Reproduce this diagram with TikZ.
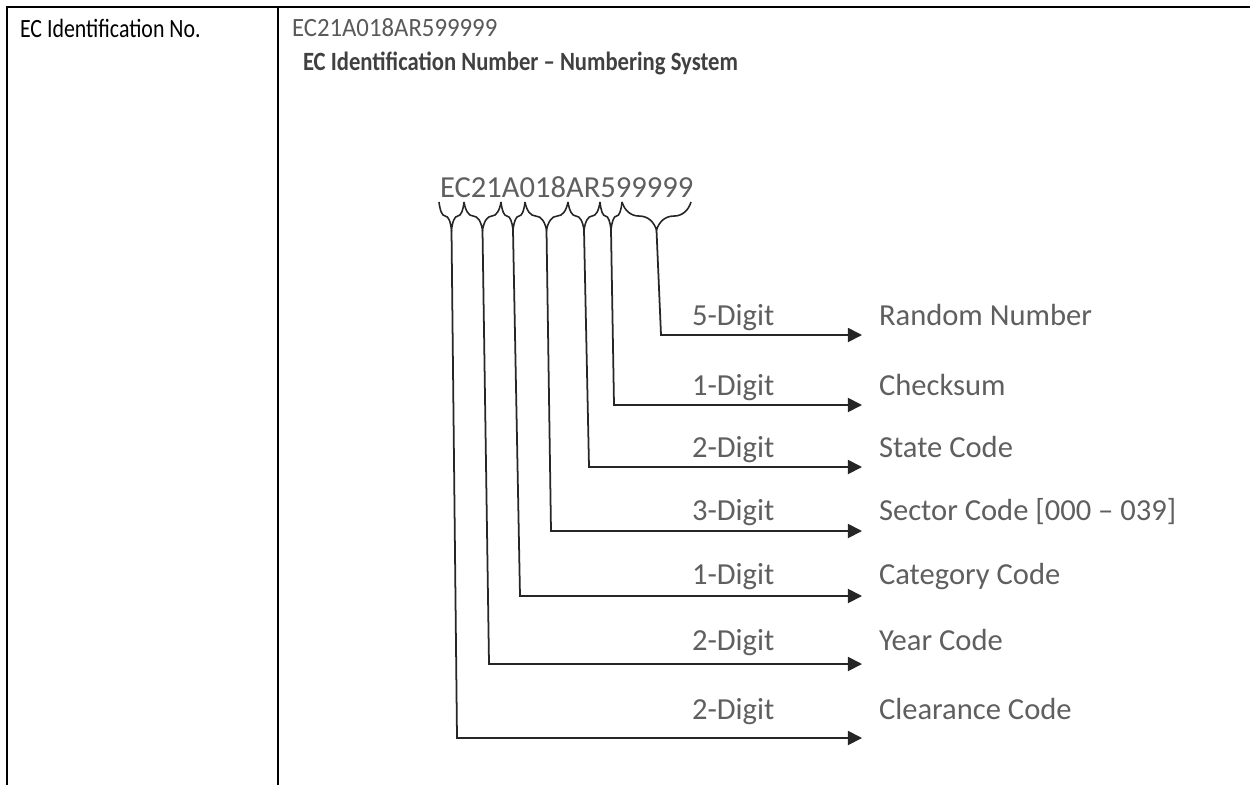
\documentclass[tikz,border=0pt]{standalone}
\usepackage{fontspec}
\setmainfont{Carlito}
\usepackage{xcolor}
\usepackage{graphicx}
\usetikzlibrary{arrows.meta,positioning,decorations.pathreplacing}
\definecolor{valuegray}{HTML}{595959}
\definecolor{headgray}{HTML}{404040}
\definecolor{diagray}{HTML}{5F5F5F}

\begin{document}
\begin{tikzpicture}[x=0.02cm, y=-0.02cm, every node/.style={inner sep=0pt, outer sep=0pt}]
\tikzset{
  rule/.style={draw=black, line width=1.3pt},
  cell/.style={font=\fontsize{15}{18}\selectfont, anchor=west},
  heading/.style={font=\fontsize{15}{18}\selectfont\bfseries, text=headgray, anchor=west},
  code/.style={font=\fontsize{17.4}{20}\selectfont, text=diagray, anchor=base west},
  digits/.style={font=\fontsize{17.4}{20}\selectfont, text=diagray, anchor=base west},
  desc/.style={font=\fontsize{17.4}{20}\selectfont, text=diagray, anchor=base west},
  grp/.style={decorate, decoration={brace, mirror, amplitude=16pt}, draw=black!85, line width=0.9pt},
  lead/.style={-{Triangle[length=8pt, width=8pt]}, draw=black!85, line width=1pt}
}
\useasboundingbox (0,0) rectangle (1250,785);
% table frame
\draw[rule] (6,7) -- (1250,7);
\draw[rule] (7,6) -- (7,785);
\draw[rule] (278,6) -- (278,785);
\node[cell] (field) at (20,28) {\scalebox{0.83}[1]{EC Identification No.}};
\node[cell, text=valuegray] (value) at (292,28) {\scalebox{0.94}[1]{EC21A018AR599999}};
\node[heading] (heading) at (303,63) {\scalebox{0.86}[1]{EC Identification Number – Numbering System}};
% numbering scheme
\node[code] (ecno) at (440,197) {EC21A018AR599999};
\draw[grp] (622,202) -- (691,202);
\draw[grp] (600,202) -- (622,202);
\draw[grp] (568,202) -- (600,202);
\draw[grp] (525,202) -- (568,202);
\draw[grp] (501,202) -- (525,202);
\draw[grp] (464,202) -- (501,202);
\draw[grp] (439,202) -- (464,202);
\coordinate (g1) at (656.5,230);
\coordinate (g2) at (611,230);
\coordinate (g3) at (584,230);
\coordinate (g4) at (546.5,230);
\coordinate (g5) at (513,230);
\coordinate (g6) at (482.5,230);
\coordinate (g7) at (451.5,230);
% rows
\node[digits] (n1) at (692,325) {5-Digit};
\node[desc] (d1) at (879,325) {Random Number};
\coordinate (k1) at (661,335);
\coordinate (t1) at (862,335);
\draw[lead] (g1) -- (k1) -- (t1);
\node[digits] (n2) at (692,395) {1-Digit};
\node[desc] (d2) at (879,395) {Checksum};
\coordinate (k2) at (614,405);
\coordinate (t2) at (862,405);
\draw[lead] (g2) -- (k2) -- (t2);
\node[digits] (n3) at (692,457) {2-Digit};
\node[desc] (d3) at (879,457) {State Code};
\coordinate (k3) at (589,467);
\coordinate (t3) at (862,467);
\draw[lead] (g3) -- (k3) -- (t3);
\node[digits] (n4) at (692,520) {3-Digit};
\node[desc] (d4) at (879,520) {Sector Code [000 – 039]};
\coordinate (k4) at (551,531);
\coordinate (t4) at (862,531);
\draw[lead] (g4) -- (k4) -- (t4);
\node[digits] (n5) at (692,584) {1-Digit};
\node[desc] (d5) at (879,584) {Category Code};
\coordinate (k5) at (520,596);
\coordinate (t5) at (862,596);
\draw[lead] (g5) -- (k5) -- (t5);
\node[digits] (n6) at (692,650) {2-Digit};
\node[desc] (d6) at (879,650) {Year Code};
\coordinate (k6) at (489,664);
\coordinate (t6) at (862,664);
\draw[lead] (g6) -- (k6) -- (t6);
\node[digits] (n7) at (692,719) {2-Digit};
\node[desc] (d7) at (879,719) {Clearance Code};
\coordinate (k7) at (457,738);
\coordinate (t7) at (862,738);
\draw[lead] (g7) -- (k7) -- (t7);
\end{tikzpicture}
\end{document}
